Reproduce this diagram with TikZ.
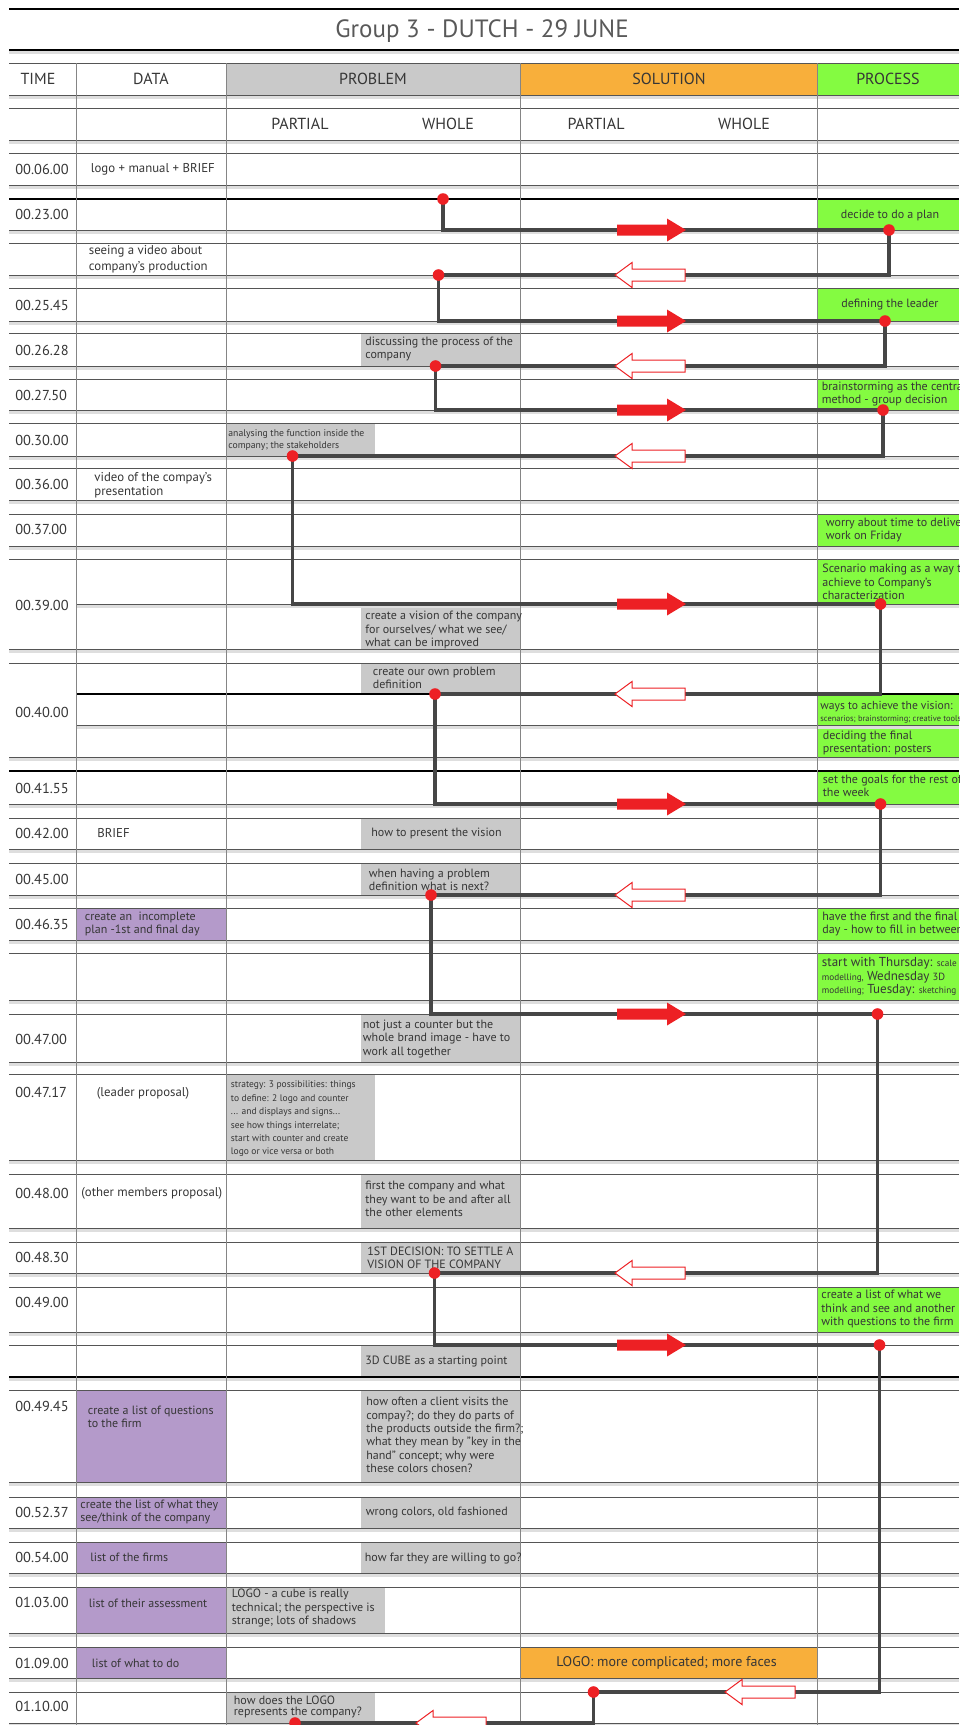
\documentclass[tikz,border=0pt]{standalone}
\usepackage{fontspec}
\setmainfont{PT Sans}
\usepackage{xcolor}
\usepackage{tikz}
\usetikzlibrary{positioning,calc}

\definecolor{probgray}{HTML}{C9C9C9}
\definecolor{solorange}{HTML}{F8AF3B}
\definecolor{procgreen}{HTML}{84FB41}
\definecolor{datapurple}{HTML}{B49ACA}
\definecolor{ink}{HTML}{363636}
\definecolor{rulegray}{HTML}{555555}
\definecolor{colgray}{HTML}{858585}
\definecolor{bandgray}{HTML}{DEDEDE}
\definecolor{flowgray}{HTML}{464646}
\definecolor{flowred}{HTML}{ED2024}

\tikzstyle{rowline} = [rulegray, line width=0.5pt]
\tikzstyle{heavyline} = [black, line width=1pt]
\tikzstyle{colline} = [colgray, line width=0.45pt]
\tikzstyle{flow} = [flowgray, line width=1.6pt]
\tikzstyle{hdr} = [inner sep=0pt, text=ink, font=\fontsize{8}{9.6}\selectfont]
\tikzstyle{timelbl} = [anchor=west, inner sep=0pt, text=ink, font=\fontsize{7.2}{8.6}\selectfont]
\tikzstyle{datatxt} = [anchor=west, align=left, inner sep=0pt, text=ink, font=\fontsize{6.4}{7}\selectfont]
\tikzstyle{celltxt} = [anchor=west, align=left, inner sep=0pt, text=ink, font=\fontsize{6}{6.7}\selectfont]
\tikzstyle{smalltxt} = [celltxt, font=\fontsize{4.85}{6.3}\selectfont]

\tikzset{
  fwdarrow/.pic={\fill[flowred] (0,-5.5) -- (50,-5.5) -- (50,-11.5) -- (69,0) -- (50,11.5) -- (50,5.5) -- (0,5.5) -- cycle;},
  backarrow/.pic={\filldraw[fill=white, draw=flowred, line width=0.5pt] (0,0) -- (17,-12.5) -- (17,-6) -- (70,-6) -- (70,6) -- (17,6) -- (17,12.5) -- cycle;}
}

\begin{document}
\begin{tikzpicture}[x=0.5pt, y=-0.5pt]
    \useasboundingbox (0,0) rectangle (959,1725);
    \clip (0,0) rectangle (959,1725);

    % title
    \draw[black, line width=0.6pt] (9,9) -- (959,9);
    \node[text=black!65, font=\fontsize{12.5}{15}\selectfont, inner sep=0pt] (title) at (482,31) {Group 3 - DUTCH - 29 JUNE};
    \fill[bandgray] (9,50) rectangle (959,54);
    \draw[heavyline, line width=1.3pt] (9,50) -- (959,50);

    % coloured cells
    \fill[probgray] (226,63) rectangle (520.5,95);
    \fill[solorange] (520.5,63) rectangle (817.7,95);
    \fill[procgreen] (817.7,63) rectangle (959,95);
    \foreach \ya/\yb in {199/230, 288/321, 379/410, 514/546, 559/604, 694/725, 725/757, 771/804, 908/940, 953/1000, 1287/1332}
        \fill[procgreen] (817.7,\ya) rectangle (959,\yb);
    \foreach \ya/\yb in {333/366, 604/649, 663/694, 818/849, 863/895, 1014/1062, 1174/1228, 1242/1273, 1345/1377, 1390/1482, 1497/1528, 1542/1573}
        \fill[probgray] (361,\ya) rectangle (520.5,\yb);
    \fill[probgray] (226,423) rectangle (375,456);
    \fill[probgray] (226,1074) rectangle (375,1160);
    \fill[probgray] (226,1587) rectangle (385,1633);
    \fill[probgray] (226,1692) rectangle (375,1723);
    \foreach \ya/\yb in {908/940, 1390/1482, 1497/1528, 1542/1573, 1587/1633, 1647/1678}
        \fill[datapurple] (76.5,\ya) rectangle (226,\yb);
    \fill[solorange] (520.5,1647) rectangle (817.7,1678);

    % rows
    \foreach \t/\b in {63/95, 108/140, 153/185, 199/230, 243/275, 288/321, 333/366, 379/410, 423/456, 468/500, 514/546, 559/649, 663/757, 771/804, 818/849, 863/895, 908/940, 953/1000, 1014/1062, 1074/1160, 1174/1228, 1242/1273, 1287/1332, 1345/1377, 1390/1482, 1497/1528, 1542/1573, 1587/1633, 1647/1678, 1692/1723} {
        \fill[bandgray] (9,\b) rectangle (959,\b+4);
        \draw[rowline] (9,\t) -- (959,\t) (9,\b) -- (959,\b);
    }
    \foreach \m in {604,725} {
        \fill[bandgray] (76.5,\m) rectangle (959,\m+4);
        \draw[rowline] (76.5,\m) -- (959,\m);
    }
    \draw[heavyline] (9,199) -- (959,199) (9,771) -- (959,771) (9,1377) -- (959,1377) (76.5,694) -- (959,694);

    % columns
    \foreach \x in {76.5,226,520.5,817.7}
        \draw[colline] (\x,63) -- (\x,1725);

    % headings
    \node[hdr] (hTime) at (38,79) {TIME};
    \node[hdr] (hData) at (151,79) {DATA};
    \node[hdr] (hProb) at (373,79) {PROBLEM};
    \node[hdr] (hSol) at (669,79) {SOLUTION};
    \node[hdr] (hProc) at (888,79) {PROCESS};
    \node[hdr] (probPart) at (300,124) {PARTIAL};
    \node[hdr] (probWhole) at (448,124) {WHOLE};
    \node[hdr] (solPart) at (596,124) {PARTIAL};
    \node[hdr] (solWhole) at (744,124) {WHOLE};

    % times
    \foreach \tm/\y [count=\k] in {00.06.00/169, 00.23.00/214, 00.25.45/305.5, 00.26.28/350, 00.27.50/395, 00.30.00/440.5, 00.36.00/484, 00.37.00/529.5, 00.39.00/605.5, 00.40.00/712, 00.41.55/788, 00.42.00/833, 00.45.00/879, 00.46.35/924, 00.47.00/1039, 00.47.17/1092.5, 00.48.00/1193, 00.48.30/1257, 00.49.00/1302.5, 00.49.45/1406.5, 00.52.37/1512.5, 00.54.00/1557.5, 01.03.00/1602.5, 01.09.00/1663, 01.10.00/1706.5}
        \node[timelbl] (tm\k) at (15,\y) {\tm};

    % data
    \node[datatxt] (note1) at (90.5,169) {logo + manual + BRIEF};
    \node[datatxt, font=\fontsize{6.4}{7.8}\selectfont] (note2) at (88.5,259.5) {seeing a video about\\company's production};
    \node[datatxt] (note3) at (94,485.5) {video of the compay's\\presentation};
    \node[datatxt] (note4) at (97,833) {BRIEF};
    \node[datatxt] (note5) at (96.5,1093) {(leader proposal)};
    \node[datatxt] (note6) at (81,1193) {(other members proposal)};
    \node[celltxt] (data1) at (84.5,924) {create an\ \ incomplete\\plan -1st and final day};
    \node[celltxt] (data2) at (87.5,1417) {create a list of questions\\to the firm};
    \node[celltxt] (data3) at (80,1512) {create the list of what they\\see/think of the company};
    \node[celltxt] (data4) at (90,1557) {list of the firms};
    \node[celltxt] (data5) at (88.5,1603) {list of their assessment};
    \node[celltxt] (data6) at (91.5,1663) {list of what to do};

    % problem
    \node[celltxt] (prob1) at (365,349) {discussing the process of the\\company};
    \node[smalltxt] (prob2) at (228,440) {analysing the function inside the\\company; the stakeholders};
    \node[celltxt] (prob3) at (365,630) {create a vision of the company\\for ourselves/ what we see/\\what can be improved};
    \node[celltxt] (prob4) at (372.5,678) {create our own problem\\definition};
    \node[celltxt] (prob5) at (371,833) {how to present the vision};
    \node[celltxt] (prob6) at (368.5,880) {when having a problem\\definition what is next?};
    \node[celltxt] (prob7) at (362.5,1039) {not just a counter but the\\whole brand image - have to\\work all together};
    \node[smalltxt, font=\fontsize{4.75}{6.7}\selectfont] (prob8) at (230.5,1119) {strategy: 3 possibilities: things\\to define: 2 logo and counter\\... and displays and signs...\\see how things interrelate;\\start with counter and create\\logo or vice versa or both};
    \node[celltxt] (prob9) at (365,1199) {first the company and what\\they want to be and after all\\the other elements};
    \node[celltxt] (prob10) at (367,1258) {1ST DECISION: TO SETTLE A\\VISION OF THE COMPANY};
    \node[celltxt] (prob11) at (365,1361) {3D CUBE as a starting point};
    \node[celltxt] (prob12) at (366,1435) {how often a client visits the\\compay?; do they do parts of\\the products outside the firm?;\\what they mean by "key in the\\hand" concept; why were\\these colors chosen?};
    \node[celltxt] (prob13) at (365.5,1513) {wrong colors, old fashioned};
    \node[celltxt] (prob14) at (364.5,1558) {how far they are willing to go?};
    \node[celltxt] (prob15) at (231.5,1608) {LOGO - a cube is really\\technical; the perspective is\\strange; lots of shadows};
    \node[celltxt, font=\fontsize{6}{5.9}\selectfont] (prob16) at (233.5,1707) {how does the LOGO\\represents the company?};

    % solution
    \node[celltxt, anchor=center, font=\fontsize{7}{8}\selectfont] (sol1) at (666.5,1663) {LOGO: more complicated; more faces};

    % process
    \node[celltxt, anchor=center] (proc1) at (890,215) {decide to do a plan};
    \node[celltxt, anchor=center] (proc2) at (890,305) {defining the leader};
    \node[celltxt] (proc3) at (821.5,394) {brainstorming as the central\\method - group decision};
    \node[celltxt] (proc4) at (825.5,530) {worry about time to deliver\\work on Friday};
    \node[celltxt] (proc5) at (822,582) {Scenario making as a way to\\achieve to Company's\\characterization};
    \node[celltxt, font=\fontsize{5.8}{5.9}\selectfont] (proc6) at (820,712) {ways to achieve the vision:\\{\fontsize{4.2}{5.9}\selectfont scenarios; brainstorming; creative tools}};
    \node[celltxt] (proc7) at (822.5,743) {deciding the final\\presentation: posters};
    \node[celltxt] (proc8) at (822.5,786) {set the goals for the rest of\\the week};
    \node[celltxt] (proc9) at (822,924) {have the first and the final\\day - how to fill in between};
    \node[celltxt] (proc10) at (821.5,977) {{\fontsize{6.5}{6.7}\selectfont start with Thursday:} {\fontsize{4.6}{6.7}\selectfont scale}\\{\fontsize{4.6}{6.7}\selectfont modelling,} {\fontsize{6.5}{6.7}\selectfont Wednesday} {\fontsize{5.2}{6.7}\selectfont 3D}\\{\fontsize{4.6}{6.7}\selectfont modelling;} {\fontsize{6.5}{6.7}\selectfont Tuesday:} {\fontsize{4.6}{6.7}\selectfont sketching}};
    \node[celltxt] (proc11) at (821,1309) {create a list of what we\\think and see and another\\with questions to the firm};

    % flow between problem and process
    \coordinate (f1) at (443,199);
    \coordinate (f2) at (889,230);
    \coordinate (f3) at (438.5,275);
    \coordinate (f4) at (885,321);
    \coordinate (f5) at (435.5,366);
    \coordinate (f6) at (883,410);
    \coordinate (f7) at (292.5,456);
    \coordinate (f8) at (880.5,604);
    \coordinate (f9) at (435,694);
    \coordinate (f10) at (880.5,804);
    \coordinate (f11) at (431,895);
    \coordinate (f12) at (877.5,1014);
    \coordinate (f13) at (434.5,1273);
    \coordinate (f14) at (879.5,1345);
    \coordinate (f15) at (593.5,1692);
    \coordinate (f16) at (295,1723);
    \draw[flow] (f1) |- (f2) |- (f3) |- (f4) |- (f5) |- (f6) |- (f7) |- (f8) |- (f9) |- (f10) |- (f11) |- (f12) |- (f13) |- (f14) |- (f15) |- (f16);

    \coordinate (fx) at (617,0);
    \coordinate (bx) at (615,0);
    \foreach \i in {2,4,...,14}
        \pic at (fx |- f\i) {fwdarrow};
    \foreach \i in {3,5,...,13}
        \pic at (bx |- f\i) {backarrow};
    \pic at (725,1692) {backarrow};
    \pic at (416,1723) {backarrow};

    \foreach \i in {1,...,16}
        \fill[flowred] (f\i) circle (2.9pt);
\end{tikzpicture}
\end{document}
